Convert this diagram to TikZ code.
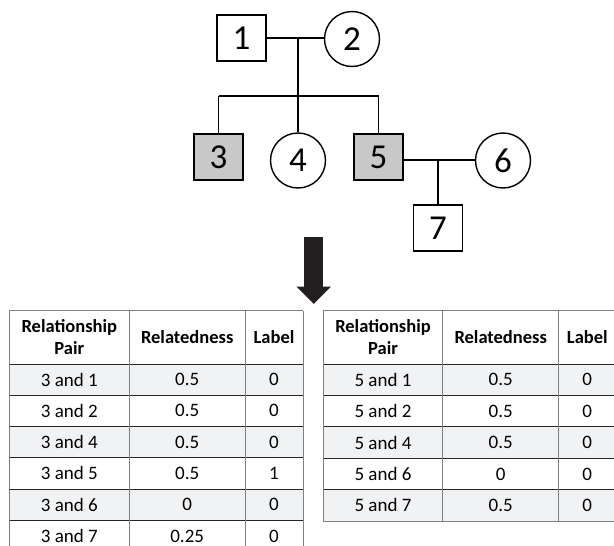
\documentclass[tikz,border=0pt]{standalone}
\usepackage{fontspec}
\setmainfont{Carlito}
\usetikzlibrary{arrows.meta}
\definecolor{affected}{HTML}{C8C8C8}
\definecolor{rowshade}{HTML}{F1F2F4}
\definecolor{gridgray}{HTML}{808080}
\definecolor{arrowfill}{HTML}{231F20}
\tikzset{
  person/.style={draw, line width=1.4pt, inner sep=0pt, font=\fontsize{35}{37}\selectfont},
  male/.style={person, minimum width=49pt, minimum height=46pt},
  female/.style={person, circle, minimum size=55pt},
  line/.style={line width=1.6pt},
  cell/.style={font=\fontsize{19}{21}\selectfont, inner sep=0pt},
  head/.style={cell, font=\fontsize{18.5}{22}\selectfont\bfseries, align=center},
  hline/.style={line width=1pt, black!85},
  vline/.style={line width=1pt, gridgray}
}
\begin{document}
\begin{tikzpicture}[x=1pt, y=-1pt]
  \useasboundingbox (0,0) rectangle (614,546);
  \clip (0,0) rectangle (614,546);

  % pedigree
  \node[male] (p1) at (241.5,38) {1};
  \node[female] (p2) at (352,39) {2};
  \node[male, fill=affected] (p3) at (218.5,157) {3};
  \node[female] (p4) at (298,160.5) {4};
  \node[male, fill=affected] (p5) at (378.5,157) {5};
  \node[female] (p6) at (503,160.5) {6};
  \node[male] (p7) at (438,228) {7};

  \coordinate (m12) at (298,38);
  \coordinate (sib) at (298,96);
  \coordinate (m56) at (438,160);
  \draw[line] (p1.east |- m12) -- (p2.west |- m12);
  \draw[line] (m12) -- (sib);
  \draw[line] (p3.north |- sib) -- (p5.north |- sib);
  \draw[line] (p3.north |- sib) -- (p3.north);
  \draw[line] (sib) -- (p4.north);
  \draw[line] (p5.north |- sib) -- (p5.north);
  \draw[line] (p5.east |- m56) -- (p6.west |- m56);
  \draw[line] (m56) -- (p7.north);

  % arrow
  \coordinate (arrtop) at (313.7,237);
  \coordinate (arrtip) at (313.7,304);
  \draw[arrowfill, line width=19pt, -{Triangle[width=33.5pt, length=17.5pt]}] (arrtop) -- (arrtip);

  % left table
  \foreach \pair/\rel/\lab [count=\i] in {3 and 1/0.5/0, 3 and 2/0.5/0, 3 and 4/0.5/0,
      3 and 5/0.5/1, 3 and 6/0/0, 3 and 7/0.25/0} {
    \pgfmathsetmacro{\ytop}{364+(\i-1)*31.3}
    \ifodd\i
      \fill[rowshade] (9.3,\ytop) rectangle (303,\ytop+31.3);
    \fi
    \node[cell] (L-\i-1) at (69.3,\ytop+15.5) {\pair};
    \node[cell] (L-\i-2) at (187.2,\ytop+15.5) {\rel};
    \node[cell] (L-\i-3) at (274,\ytop+15.5) {\lab};
    \draw[hline] (9.3,\ytop) -- (303,\ytop);
  }
  \node[head] (L-h-1) at (69.3,337.3) {Relationship\\Pair};
  \node[head] (L-h-2) at (187.2,337.3) {Relatedness};
  \node[head] (L-h-3) at (274,337.3) {Label};
  \draw[vline] (9.3,310.7) -- (303,310.7);
  \foreach \x in {9.3,129.3,245,303}
    \draw[vline] (\x,310.7) -- (\x,560);

  % right table
  \foreach \pair/\rel/\lab [count=\i] in {5 and 1/0.5/0, 5 and 2/0.5/0, 5 and 4/0.5/0,
      5 and 6/0/0, 5 and 7/0.5/0} {
    \pgfmathsetmacro{\ytop}{364+(\i-1)*31.4}
    \ifodd\i
      \fill[rowshade] (323.3,\ytop) rectangle (616,\ytop+31.4);
    \fi
    \node[cell] (R-\i-1) at (383,\ytop+15.7) {\pair};
    \node[cell] (R-\i-2) at (500.7,\ytop+15.7) {\rel};
    \node[cell] (R-\i-3) at (587.3,\ytop+15.7) {\lab};
    \draw[hline] (323.3,\ytop) -- (616,\ytop);
  }
  \node[head] (R-h-1) at (383,337.3) {Relationship\\Pair};
  \node[head] (R-h-2) at (500.7,337.3) {Relatedness};
  \node[head] (R-h-3) at (587.3,337.3) {Label};
  \draw[vline] (323.3,310.7) -- (616,310.7);
  \draw[vline] (323.3,521) -- (616,521);
  \foreach \x in {323.3,442.7,558.7,616}
    \draw[vline] (\x,310.7) -- (\x,521);
\end{tikzpicture}
\end{document}
